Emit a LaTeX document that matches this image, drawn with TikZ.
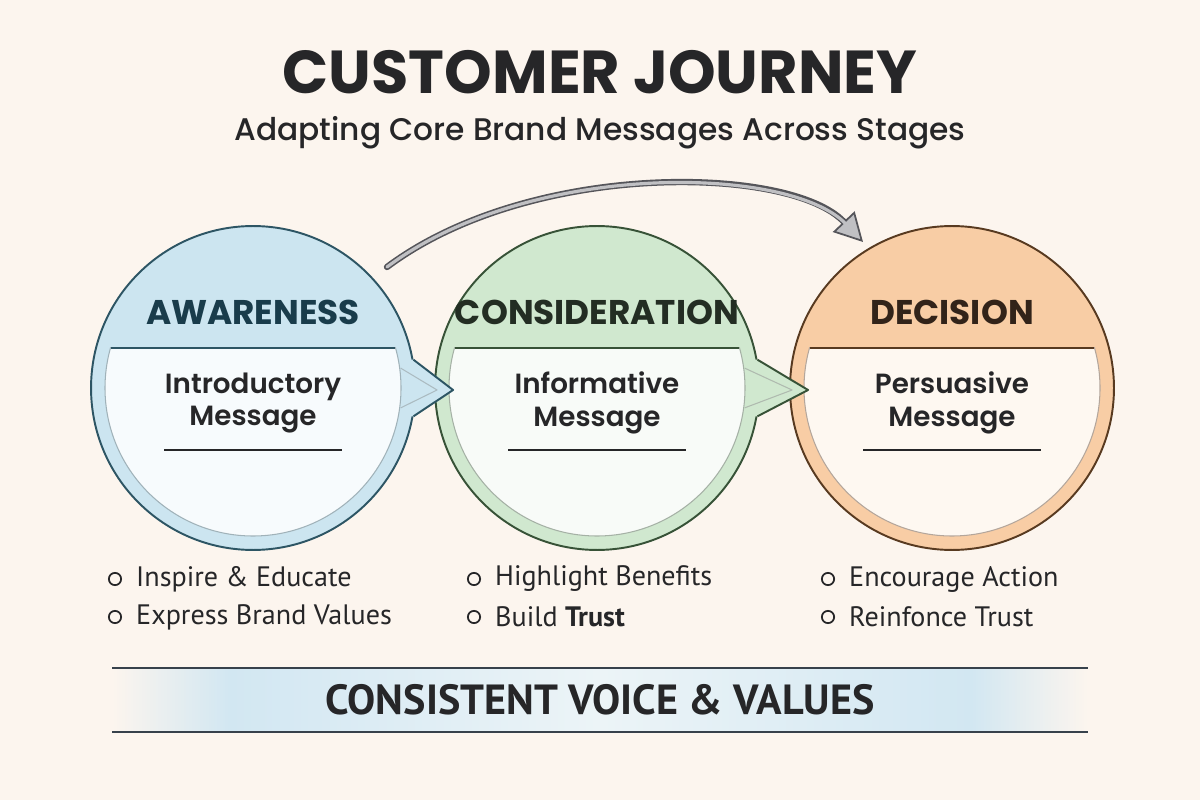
\documentclass[tikz,border=0pt]{standalone}
\usepackage{fontspec}
\usepackage{tikz}
\usetikzlibrary{
	arrows.meta, positioning, calc
}
\newfontfamily\popp{Poppins}
\newfontfamily\poppsemi{Poppins SemiBold}
\newfontfamily\poppmed{Poppins Medium}
\newfontfamily\ptsans{PT Sans}
\definecolor{bgcream}   {RGB}{252, 245, 238}
\definecolor{awfill}    {RGB}{204, 229, 240}
\definecolor{awline}    {RGB}{ 45,  85, 100}
\definecolor{awtext}    {RGB}{ 25,  60,  75}
\definecolor{cofill}    {RGB}{208, 232, 207}
\definecolor{coline}    {RGB}{ 55,  82,  55}
\definecolor{cotext}    {RGB}{ 35,  45,  35}
\definecolor{defill}    {RGB}{248, 205, 165}
\definecolor{deline}    {RGB}{ 88,  58,  32}
\definecolor{detext}    {RGB}{ 50,  35,  25}
\definecolor{inkdark}   {RGB}{ 38,  38,  40}
\definecolor{bandblue}  {RGB}{210, 231, 242}
\definecolor{bandpale}  {RGB}{236, 244, 247}
\definecolor{bandline}  {RGB}{ 55,  65,  75}
\definecolor{arrgray}   {RGB}{192, 192, 195}
\definecolor{arrline}   {RGB}{ 85,  85,  90}
\pgfdeclarehorizontalshading{bandfade}{100bp}{color(0bp)=(bgcream); color(25bp)=(bgcream); color(31bp)=(bandblue); color(50bp)=(bandpale); color(69bp)=(bandblue); color(75bp)=(bgcream); color(100bp)=(bgcream)}

\begin{document}
\begin{tikzpicture}[x=0.02cm, y=-0.02cm,
	stage/.style={circle, minimum size=6.48cm, inner sep=0pt, line width=1.1pt},
	stagetitle/.style={font=\popp\bfseries\fontsize{19.5}{22}\selectfont},
	msgtext/.style={font=\poppsemi\fontsize{15.8}{18.7}\selectfont, align=center, text=inkdark},
	bullettext/.style={font=\ptsans\fontsize{16}{18}\selectfont, text=inkdark, anchor=west},
	dot/.style={circle, draw=inkdark, line width=1pt, minimum size=7pt, inner sep=0pt}]
	\useasboundingbox (0,0) rectangle (1200,800);
	\fill[bgcream] (0,0) rectangle (1200,800);

	\node[font=\popp\bfseries\fontsize{34.5}{38}\selectfont, text=inkdark] (ttl) at (600,72) {CUSTOMER JOURNEY};
	\node[font=\poppmed\fontsize{17.8}{21}\selectfont, text=inkdark] (sub) at (600,133) {Adapting Core Brand Messages Across Stages};

	\foreach \nm/\cx/\fc/\lc/\tc/\ttx/\mtx in {S1/253/awfill/awline/awtext/AWARENESS/Introductory, S2/597/cofill/coline/cotext/CONSIDERATION/Informative, S3/952/defill/deline/detext/DECISION/Persuasive}{
		\node[stage, fill=\fc, draw=\lc] (\nm) at (\cx,388) {};
		\begin{scope}
			\clip ($(\nm.center)+(-200,-40)$) rectangle ($(\nm.center)+(200,200)$);
			\fill[\fc!15!white, draw=\lc!45, line width=0.6pt] (\nm.center) circle (148);
		\end{scope}
		\draw[\lc, line width=0.8pt] ($(\nm.center)+(-142,-40)$) -- ($(\nm.center)+(142,-40)$);
		\node[stagetitle, text=\tc] (\nm t) at ($(\nm.center)+(0,-76)$) {\ttx};
		\node[msgtext] (\nm m) at ($(\nm.center)+(0,15)$) {\mtx\\Message};
		\draw[inkdark, line width=0.8pt] ($(\nm.center)+(-89,62)$) -- ($(\nm.center)+(89,62)$);
	}

	\foreach \nm/\nx/\fc/\lc in {S1/S2/awfill/awline, S2/S3/cofill/coline}{
		\coordinate (\nm tip) at ($(\nx.west)+(19,2)$);
		\fill[\fc] (\nm.10) -- (\nm tip) -- (\nm.-10) -- ($(\nm.-10)+(-8,0)$) -- ($(\nm.10)+(-8,0)$) -- cycle;
		\draw[\lc!40, line width=0.6pt, line join=round] ($(\nm.7)+(-14,0)$) -- ($(\nm tip)+(-16,0)$) -- ($(\nm.-7)+(-14,0)$);
		\draw[\lc, line width=1.1pt, line join=round] (\nm.10) -- (\nm tip) -- (\nm.-10);
	}

	\coordinate (arrS) at ($(S1.center)+(134,-121)$);
	\coordinate (arrE) at ($(S3.center)+(-89,-146)$);
	\draw[arrline, line width=3.6pt, line cap=round, -{Triangle[length=16pt, width=17pt, line width=1pt, fill=arrgray]}] (arrS) .. controls (530,160) and (790,165) .. (arrE);
	\draw[arrgray, line width=1.8pt, line cap=round, shorten >=14pt] (arrS) .. controls (530,160) and (790,165) .. (arrE);

	\foreach \nm/\dx/\ia/\ib in {S1/-138/Inspire \& Educate/Express Brand Values, S2/-123/Highlight Benefits/Build \textbf{Trust}, S3/-124/Encourage Action/Reinfonce Trust}{
		\node[dot] (\nm d1) at ($(\nm.center)+(\dx,191)$) {};
		\node[dot] (\nm d2) at ($(\nm.center)+(\dx,229)$) {};
		\node[bullettext] (\nm b1) at ($(\nm d1)+(15,0)$) {\ia};
		\node[bullettext] (\nm b2) at ($(\nm d2)+(15,0)$) {\ib};
	}

	\fill[shading=bandfade] (112,668) rectangle (1088,732);
	\draw[bandline, line width=1.2pt] (112,668) -- (1088,668);
	\draw[bandline, line width=1.2pt] (112,732) -- (1088,732);
	\node[font=\ptsans\bfseries\fontsize{24}{27}\selectfont, text=inkdark] (band) at (600,700) {CONSISTENT VOICE \& VALUES};
\end{tikzpicture}
\end{document}
